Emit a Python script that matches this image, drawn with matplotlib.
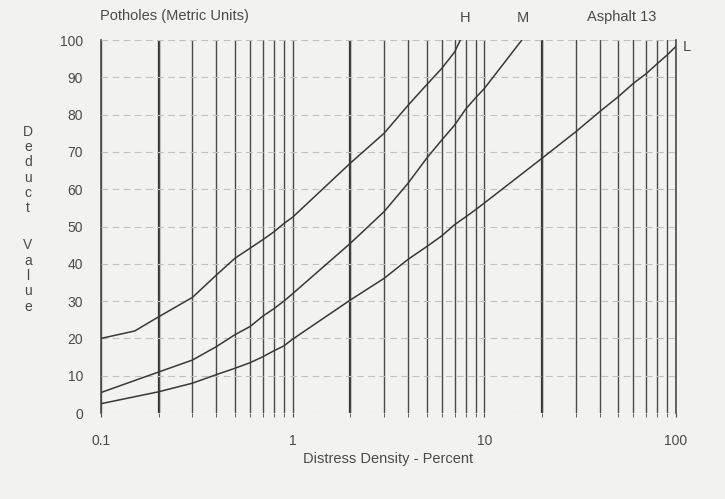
import matplotlib
matplotlib.use('Agg')
import matplotlib.pyplot as plt
from matplotlib.ticker import LogLocator, FixedLocator, NullFormatter

# density (percent) and deduct values
density_h = [0.1, 0.15, 0.2, 0.3, 0.4, 0.5, 0.6, 0.7, 0.8, 0.9, 1, 2, 3, 4, 5, 6, 7, 7.5]
deduct_h = [20, 22.0, 25.8, 31, 37, 41.5, 44.2, 46.5, 48.6, 50.8, 52.5, 67, 75, 82.5, 88, 92.4, 96.8, 100]

density_m = [0.1, 0.2, 0.3, 0.4, 0.5, 0.6, 0.7, 0.8, 0.9, 1, 2, 3, 4, 5, 6, 7, 8, 9, 10, 15.7]
deduct_m = [5.5, 11, 14.2, 17.8, 21, 23.2, 26, 28, 30, 32, 45.5, 54, 61.6, 68.3, 73.2, 77.2, 81.5, 84.5, 87, 100]

density_l = [0.1, 0.2, 0.3, 0.4, 0.5, 0.6, 0.7, 0.8, 0.9, 1, 2, 3, 4, 5, 6, 7, 8, 9, 10,
             20, 30, 40, 50, 60, 70, 80, 90, 100]
deduct_l = [2.5, 5.7, 8, 10.3, 12, 13.5, 15.1, 16.7, 18, 19.8, 30.3, 36.1, 41.2, 44.6, 47.5, 50.5, 52.6, 54.5, 56.3,
            68.3, 75.4, 80.8, 84.8, 88.4, 91, 93.7, 96, 98.3]

x_ticks = [0.1, 1, 10, 100]
x_tick_labels = ['0.1', '1', '10', '100']
y_ticks = [0, 10, 20, 30, 40, 50, 60, 70, 80, 90, 100]

bg = '#f2f2f0'
txt = '#4a4a4a'
ink = '#383838'

plt.rcParams['font.family'] = ['Liberation Sans', 'DejaVu Sans']

fig = plt.figure(figsize=(7.25, 4.99), dpi=100, facecolor=bg)
ax = fig.add_axes([0.1393, 0.1723, 0.7931, 0.7475], facecolor=bg)

ax.set_xscale('log')
ax.set_xlim(0.1, 100)
ax.set_ylim(0, 100)

# grid: dark verticals every log step, faint dashed horizontals
ax.xaxis.set_major_locator(FixedLocator(x_ticks))
ax.xaxis.set_minor_locator(LogLocator(base=10, subs=range(2, 10)))
ax.xaxis.set_minor_formatter(NullFormatter())
ax.set_xticklabels(x_tick_labels)
ax.set_yticks(y_ticks)
ax.grid(True, which='both', axis='x', color='#4a4a4a', lw=1.0)
ax.grid(True, which='major', axis='y', color='#c0c0c0', lw=0.8, ls=(0, (6, 4)))
for v in [0.2, 2, 20]:
    ax.axvline(v, color='#2e2e2e', lw=1.6, zorder=1)
for v in [0.1, 100]:
    ax.axvline(v, color='#4a4a4a', lw=1.2, zorder=1, clip_on=False)

for s in ax.spines.values():
    s.set_visible(False)

ax.tick_params(axis='x', which='both', direction='out', length=3, color='#4a4a4a',
               pad=12, labelsize=10, labelcolor=txt)
ax.tick_params(axis='y', length=0, pad=13, labelsize=10, labelcolor=txt)

ax.plot(density_h, deduct_h, color=ink, lw=1.1, zorder=3)
ax.plot(density_m, deduct_m, color=ink, lw=1.1, zorder=3)
ax.plot(density_l, deduct_l, color=ink, lw=1.1, zorder=3)

ax.text(7.98, 106, 'H', ha='center', va='center', fontsize=10.5, color=txt, clip_on=False)
ax.text(15.8, 106, 'M', ha='center', va='center', fontsize=10.5, color=txt, clip_on=False)
ax.text(114, 98, 'L', ha='center', va='center', fontsize=10.5, color=txt, clip_on=False)

fig.text(100 / 725, 1 - 16 / 499, 'Potholes (Metric Units)', ha='left', va='center',
         fontsize=10.5, color=txt)
fig.text(622 / 725, 1 - 17 / 499, 'Asphalt 13', ha='center', va='center',
         fontsize=10.5, color=txt)

ax.set_xlabel('Distress Density - Percent', fontsize=10.5, color=txt, labelpad=3)

fig.text(28 / 725, 1 - 170 / 499, '\n'.join('Deduct'), ha='center', va='center',
         fontsize=10, color=txt, linespacing=1.12)
fig.text(28 / 725, 1 - 276 / 499, '\n'.join('Value'), ha='center', va='center',
         fontsize=10, color=txt, linespacing=1.12)

fig.savefig('out.png', dpi=100, facecolor=bg)
